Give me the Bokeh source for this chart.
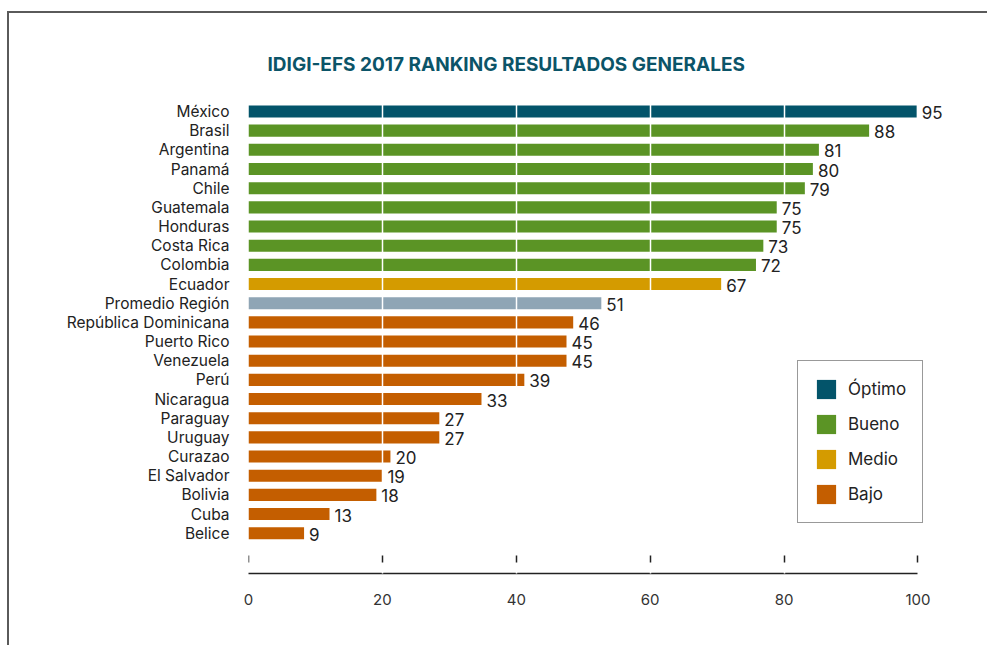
from bokeh.plotting import figure
from bokeh.models import (ColumnDataSource, Range1d, FixedTicker, LinearAxis, Legend,
                          LegendItem, CDSView, GroupFilter)
from bokeh.core.properties import value
from bokeh.embed import file_html
from bokeh.resources import INLINE

# ---------------- data ----------------
title_text = "IDIGI-EFS 2017 RANKING RESULTADOS GENERALES"
countries = ["México", "Brasil", "Argentina", "Panamá", "Chile", "Guatemala", "Honduras",
             "Costa Rica", "Colombia", "Ecuador", "Promedio Región", "República Dominicana",
             "Puerto Rico", "Venezuela", "Perú", "Nicaragua", "Paraguay", "Uruguay",
             "Curazao", "El Salvador", "Bolivia", "Cuba", "Belice"]
# printed scores
scores = [95, 88, 81, 80, 79, 75, 75, 73, 72, 67, 51, 46, 45, 45, 39, 33, 27, 27, 20, 19, 18, 13, 9]
# bar lengths as read against the 0-100 axis
bar_values = [99.8, 92.7, 85.2, 84.3, 83.1, 78.9, 78.9, 76.9, 75.8, 70.6, 52.7, 48.5, 47.5,
              47.5, 41.2, 34.8, 28.5, 28.5, 21.2, 20.0, 19.1, 12.1, 8.3]
levels = ["Óptimo", "Bueno", "Bueno", "Bueno", "Bueno", "Bueno", "Bueno", "Bueno", "Bueno",
          "Medio", "Promedio", "Bajo", "Bajo", "Bajo", "Bajo", "Bajo", "Bajo", "Bajo", "Bajo",
          "Bajo", "Bajo", "Bajo", "Bajo"]
legend_levels = ["Óptimo", "Bueno", "Medio", "Bajo"]
level_colors = {"Óptimo": "#03546a", "Bueno": "#5b9425", "Medio": "#d49b00",
                "Bajo": "#c45e00", "Promedio": "#8fa5b5"}
x_ticks = [0, 20, 40, 60, 80, 100]

FONT = "Inter"
n = len(countries)
rows = list(range(n))

src = ColumnDataSource(dict(row=rows, country=countries, score=scores, length=bar_values,
                            level=levels, label=[str(s) for s in scores]))

p = figure(width=980, height=634, output_backend="svg", toolbar_location=None, tools="",
           x_range=Range1d(0, 106.35), y_range=Range1d(n - 1 + 2.10, -1.095),
           min_border_left=239, min_border_right=29, min_border_top=77, min_border_bottom=74)
p.outline_line_color = None
p.background_fill_color = "white"
p.border_fill_color = "white"
p.margin = (11, 0, 0, 7)
p.styles = {"border-top": "2px solid #5a5a5a", "border-left": "2px solid #5a5a5a"}

# title
p.title.text = title_text
p.title.align = "left"
p.title.offset = 19
p.title.standoff = 29
p.title.text_font = "Inter"
p.title.text_font_style = "bold"
p.title.text_font_size = "19px"
p.title.text_color = "#0b5468"

renderers = {}
for lv in legend_levels + ["Promedio"]:
    view = CDSView(filter=GroupFilter(column_name="level", group=lv))
    renderers[lv] = p.hbar(y="row", left=0, right="length", height=0.63, source=src, view=view,
                           fill_color=level_colors[lv], line_color=None)

p.text(x="length", y="row", text="label", source=src, x_offset=5, y_offset=1,
       text_baseline="middle", text_align="left", text_font=value(FONT),
       text_font_size="17px", text_color="#222222", level="overlay")

# axes
xa = p.xaxis[0]
xa.ticker = FixedTicker(ticks=x_ticks)
xa.bounds = (0, 100)
xa.major_tick_in = 0
xa.major_tick_out = 0
xa.minor_tick_line_color = None
xa.axis_line_color = "#222222"
xa.axis_line_width = 1.5
xa.major_label_standoff = 20
xa.major_label_text_font = FONT
xa.major_label_text_font_size = "15px"
xa.major_label_text_color = "#333333"

tick_axis = LinearAxis(ticker=FixedTicker(ticks=x_ticks), fixed_location=n - 1 + 1.163,
                       bounds=(0, 100), major_tick_in=0, major_tick_out=7, axis_line_color=None,
                       major_tick_line_color="#222222", major_tick_line_width=1.5,
                       minor_tick_line_color=None, major_label_text_color=None,
                       major_label_standoff=0, level="overlay")
p.add_layout(tick_axis, "below")

ya = p.yaxis[0]
ya.ticker = FixedTicker(ticks=rows)
ya.major_label_overrides = {i: c for i, c in zip(rows, countries)}
ya.axis_line_color = None
ya.major_tick_in = 0
ya.major_tick_out = 0
ya.minor_tick_line_color = None
ya.major_label_standoff = 19
ya.major_label_text_font = FONT
ya.major_label_text_font_size = "15.5px"
ya.major_label_text_color = "#222222"

p.ygrid.visible = False
p.xgrid.ticker = FixedTicker(ticks=[0, 20, 40, 60, 80])
p.xgrid.grid_line_color = "white"
p.xgrid.grid_line_width = 1.5
p.xgrid.level = "annotation"

# legend
legend = Legend(items=[LegendItem(label=lv, renderers=[renderers[lv]]) for lv in legend_levels],
                location=(549, 50), orientation="vertical",
                border_line_color="#333333", border_line_width=1.5,
                background_fill_color="white", background_fill_alpha=1,
                padding=16, spacing=11, margin=0,
                glyph_width=24, glyph_height=24, label_height=24, label_standoff=10,
                label_text_font=FONT, label_text_font_size="17px", label_text_color="#222222")
p.add_layout(legend)

open("out.html", "w").write(file_html(p, INLINE))
